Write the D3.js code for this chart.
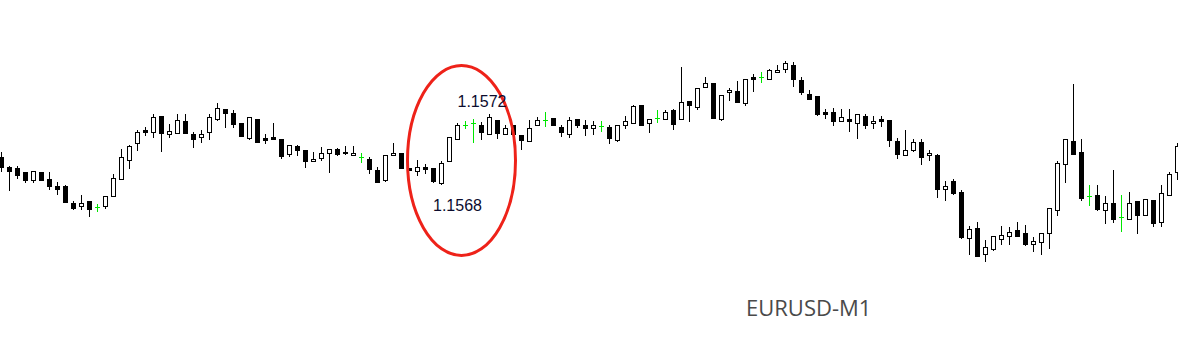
<!DOCTYPE html>
<html>
<head>
<meta charset="utf-8">
<script src="https://cdn.jsdelivr.net/npm/d3@7"></script>
<style>
  html, body { margin: 0; padding: 0; background: #fff; }
  svg { display: block; }
</style>
</head>
<body>
<div id="chart"></div>
<script>
const dims = { height: 360, width: 1178 };

// EURUSD M1 candles, one per minute
const open = [
  1.15678, 1.15668, 1.15667, 1.15663, 1.15655, 1.15663, 1.15656, 1.15649, 1.15649, 1.15632,
  1.15629, 1.15634, 1.15628, 1.15629, 1.15639, 1.15656, 1.15675, 1.15692, 1.15705, 1.15703,
  1.15719, 1.15701, 1.15702, 1.15714, 1.15701, 1.15698, 1.15703, 1.15716, 1.15726, 1.15722,
  1.15712, 1.15697, 1.15716, 1.15697, 1.15698, 1.15696, 1.15681, 1.15689, 1.15685, 1.15674,
  1.15677, 1.15682, 1.15686, 1.15683, 1.15680, 1.15678, 1.15676, 1.15665, 1.15655, 1.15680,
  1.15682, 1.15667, 1.15664, 1.15668, 1.15667, 1.15652, 1.15674, 1.15696, 1.15710, 1.15712,
  1.15710, 1.15701, 1.15715, 1.15701, 1.15710, 1.15700, 1.15694, 1.15710, 1.15715, 1.15717,
  1.15708, 1.15701, 1.15716, 1.15710, 1.15707, 1.15709, 1.15708, 1.15695, 1.15710, 1.15712,
  1.15730, 1.15712, 1.15717, 1.15716, 1.15725, 1.15716, 1.15734, 1.15728, 1.15748, 1.15752,
  1.15716, 1.15743, 1.15744, 1.15732, 1.15758, 1.15758, 1.15756, 1.15763, 1.15766, 1.15770,
  1.15755, 1.15741, 1.15739, 1.15723, 1.15723, 1.15714, 1.15716, 1.15712, 1.15719, 1.15712,
  1.15716, 1.15715, 1.15694, 1.15680, 1.15685, 1.15693, 1.15680, 1.15680, 1.15646, 1.15654,
  1.15643, 1.15597, 1.15607, 1.15581, 1.15586, 1.15596, 1.15599, 1.15605, 1.15602, 1.15591,
  1.15593, 1.15602, 1.15625, 1.15671, 1.15694, 1.15683, 1.15639, 1.15640, 1.15625, 1.15632,
  1.15618, 1.15616, 1.15634, 1.15620, 1.15635, 1.15613, 1.15640, 1.15663
];
const high = [
  1.15683, 1.15669, 1.15669, 1.15663, 1.15664, 1.15663, 1.15663, 1.15653, 1.15650, 1.15634,
  1.15640, 1.15634, 1.15631, 1.15639, 1.15661, 1.15686, 1.15690, 1.15705, 1.15708, 1.15721,
  1.15719, 1.15711, 1.15721, 1.15721, 1.15703, 1.15705, 1.15721, 1.15732, 1.15726, 1.15725,
  1.15712, 1.15718, 1.15716, 1.15701, 1.15712, 1.15696, 1.15690, 1.15690, 1.15685, 1.15683,
  1.15688, 1.15686, 1.15687, 1.15689, 1.15689, 1.15682, 1.15678, 1.15668, 1.15680, 1.15692,
  1.15682, 1.15667, 1.15675, 1.15671, 1.15667, 1.15674, 1.15698, 1.15712, 1.15714, 1.15716,
  1.15713, 1.15721, 1.15715, 1.15710, 1.15710, 1.15700, 1.15715, 1.15718, 1.15723, 1.15717,
  1.15710, 1.15718, 1.15716, 1.15715, 1.15714, 1.15714, 1.15710, 1.15710, 1.15719, 1.15730,
  1.15730, 1.15716, 1.15725, 1.15725, 1.15726, 1.15768, 1.15734, 1.15747, 1.15758, 1.15752,
  1.15740, 1.15747, 1.15754, 1.15756, 1.15761, 1.15763, 1.15766, 1.15770, 1.15774, 1.15773,
  1.15758, 1.15745, 1.15739, 1.15726, 1.15727, 1.15726, 1.15726, 1.15721, 1.15721, 1.15719,
  1.15719, 1.15715, 1.15697, 1.15705, 1.15696, 1.15696, 1.15685, 1.15681, 1.15654, 1.15656,
  1.15645, 1.15609, 1.15613, 1.15595, 1.15599, 1.15609, 1.15608, 1.15613, 1.15610, 1.15598,
  1.15602, 1.15627, 1.15674, 1.15696, 1.15751, 1.15696, 1.15650, 1.15650, 1.15639, 1.15665,
  1.15640, 1.15643, 1.15634, 1.15636, 1.15635, 1.15650, 1.15663, 1.15692
];
const low = [
  1.15664, 1.15645, 1.15657, 1.15653, 1.15653, 1.15655, 1.15646, 1.15641, 1.15633, 1.15626,
  1.15626, 1.15619, 1.15624, 1.15627, 1.15639, 1.15656, 1.15667, 1.15685, 1.15700, 1.15698,
  1.15684, 1.15698, 1.15702, 1.15702, 1.15688, 1.15693, 1.15696, 1.15715, 1.15708, 1.15708,
  1.15699, 1.15696, 1.15693, 1.15692, 1.15696, 1.15677, 1.15679, 1.15680, 1.15668, 1.15674,
  1.15675, 1.15663, 1.15680, 1.15681, 1.15680, 1.15673, 1.15662, 1.15653, 1.15654, 1.15680,
  1.15667, 1.15665, 1.15660, 1.15662, 1.15653, 1.15651, 1.15674, 1.15696, 1.15707, 1.15693,
  1.15696, 1.15701, 1.15697, 1.15701, 1.15701, 1.15686, 1.15694, 1.15710, 1.15709, 1.15710,
  1.15699, 1.15698, 1.15708, 1.15700, 1.15701, 1.15704, 1.15692, 1.15694, 1.15707, 1.15712,
  1.15710, 1.15703, 1.15713, 1.15716, 1.15706, 1.15716, 1.15714, 1.15726, 1.15748, 1.15717,
  1.15715, 1.15735, 1.15733, 1.15730, 1.15744, 1.15753, 1.15756, 1.15763, 1.15763, 1.15749,
  1.15741, 1.15736, 1.15720, 1.15717, 1.15710, 1.15714, 1.15704, 1.15697, 1.15707, 1.15707,
  1.15709, 1.15689, 1.15677, 1.15680, 1.15684, 1.15671, 1.15675, 1.15638, 1.15635, 1.15641,
  1.15597, 1.15581, 1.15579, 1.15574, 1.15585, 1.15591, 1.15591, 1.15599, 1.15590, 1.15584,
  1.15581, 1.15587, 1.15620, 1.15653, 1.15681, 1.15635, 1.15630, 1.15625, 1.15612, 1.15613,
  1.15604, 1.15616, 1.15602, 1.15620, 1.15609, 1.15609, 1.15640, 1.15656
];
const close = [
  1.15668, 1.15664, 1.15660, 1.15655, 1.15664, 1.15655, 1.15649, 1.15646, 1.15633, 1.15627,
  1.15632, 1.15626, 1.15628, 1.15639, 1.15657, 1.15678, 1.15689, 1.15703, 1.15703, 1.15718,
  1.15702, 1.15704, 1.15715, 1.15702, 1.15696, 1.15701, 1.15718, 1.15727, 1.15722, 1.15711,
  1.15699, 1.15718, 1.15693, 1.15695, 1.15696, 1.15679, 1.15690, 1.15685, 1.15674, 1.15676,
  1.15682, 1.15686, 1.15681, 1.15682, 1.15682, 1.15678, 1.15666, 1.15653, 1.15680, 1.15682,
  1.15667, 1.15665, 1.15668, 1.15666, 1.15654, 1.15672, 1.15698, 1.15710, 1.15710, 1.15712,
  1.15703, 1.15718, 1.15702, 1.15707, 1.15701, 1.15695, 1.15707, 1.15715, 1.15715, 1.15710,
  1.15703, 1.15715, 1.15710, 1.15707, 1.15710, 1.15709, 1.15697, 1.15710, 1.15714, 1.15729,
  1.15710, 1.15716, 1.15717, 1.15723, 1.15711, 1.15733, 1.15730, 1.15747, 1.15752, 1.15717,
  1.15740, 1.15745, 1.15733, 1.15756, 1.15756, 1.15758, 1.15765, 1.15765, 1.15772, 1.15756,
  1.15743, 1.15736, 1.15721, 1.15721, 1.15714, 1.15718, 1.15714, 1.15721, 1.15710, 1.15714,
  1.15714, 1.15695, 1.15681, 1.15685, 1.15693, 1.15678, 1.15682, 1.15646, 1.15649, 1.15642,
  1.15598, 1.15606, 1.15579, 1.15588, 1.15599, 1.15600, 1.15603, 1.15599, 1.15591, 1.15594,
  1.15602, 1.15627, 1.15672, 1.15696, 1.15681, 1.15637, 1.15639, 1.15626, 1.15632, 1.15616,
  1.15618, 1.15632, 1.15620, 1.15636, 1.15612, 1.15642, 1.15661, 1.15689
];

// price labels around the circled area
const priceLabels = ['1.1572', '1.1568'];
const symbol = 'EURUSD-M1';

const candles = open.map((o, i) => ({ i, o, h: high[i], l: low[i], c: close[i] }));

const svg = d3.select('#chart')
    .append('svg')
    .attr('width', dims.width)
    .attr('height', dims.height);

const x = d3.scaleLinear()
    .domain([0, candles.length - 1])
    .range([1.5, dims.width - 0.5]);

const y = d3.scaleLinear()
    .domain([1.15475, 1.15835])
    .range([dims.height, 0]);

const py = v => Math.round(y(v));

const groups = svg.append('g')
    .attr('shape-rendering', 'crispEdges')
    .selectAll('.candle')
    .data(candles)
    .enter()
    .append('g')
    .attr('class', 'candle');

const kind = d => d.c > d.o ? 'bull' : d.c < d.o ? 'bear' : 'doji';
const green = '#00e600';
const colour = d => kind(d) === 'doji' ? green : '#000';

// wicks
groups.append('line')
    .attr('x1', d => x(d.i))
    .attr('x2', d => x(d.i))
    .attr('y1', d => py(d.h))
    .attr('y2', d => py(d.l) + 1)
    .attr('stroke', colour)
    .attr('stroke-width', 1);

// bear bodies: solid black
groups.filter(d => kind(d) === 'bear')
    .append('rect')
    .attr('x', d => x(d.i) - 2.5)
    .attr('y', d => py(d.o))
    .attr('width', 5)
    .attr('height', d => Math.max(1, py(d.c) - py(d.o) + 1))
    .attr('fill', '#000');

// bull bodies: hollow
groups.filter(d => kind(d) === 'bull')
    .append('rect')
    .attr('x', d => x(d.i) - 2)
    .attr('y', d => py(d.c) + 0.5)
    .attr('width', 4)
    .attr('height', d => Math.max(0, py(d.o) - py(d.c)))
    .attr('fill', '#fff')
    .attr('stroke', '#000')
    .attr('stroke-width', 1);

// doji: green cross
groups.filter(d => kind(d) === 'doji')
    .append('line')
    .attr('x1', d => x(d.i) - 2.5)
    .attr('x2', d => x(d.i) + 2.5)
    .attr('y1', d => py(d.o) + 0.5)
    .attr('y2', d => py(d.o) + 0.5)
    .attr('stroke', green)
    .attr('stroke-width', 1);

// annotation
svg.append('ellipse')
    .attr('cx', 461.5)
    .attr('cy', 160.5)
    .attr('rx', 54)
    .attr('ry', 95)
    .attr('fill', 'none')
    .attr('stroke', '#ee2219')
    .attr('stroke-width', 3);

svg.selectAll('.plabel')
    .data(priceLabels)
    .enter()
    .append('text')
    .attr('class', 'plabel')
    .attr('x', (d, i) => i === 0 ? 457.5 : 433)
    .attr('y', (d, i) => i === 0 ? 106.5 : 210.5)
    .attr('font-family', '"Liberation Sans", Arial, sans-serif')
    .attr('font-size', 16)
    .attr('fill', '#0c0c2e')
    .text(d => d);

svg.append('text')
    .attr('x', 746)
    .attr('y', 316)
    .attr('font-family', '"Open Sans", sans-serif')
    .attr('font-size', 22)
    .attr('fill', '#4a4a4a')
    .text(symbol);
</script>
</body>
</html>
